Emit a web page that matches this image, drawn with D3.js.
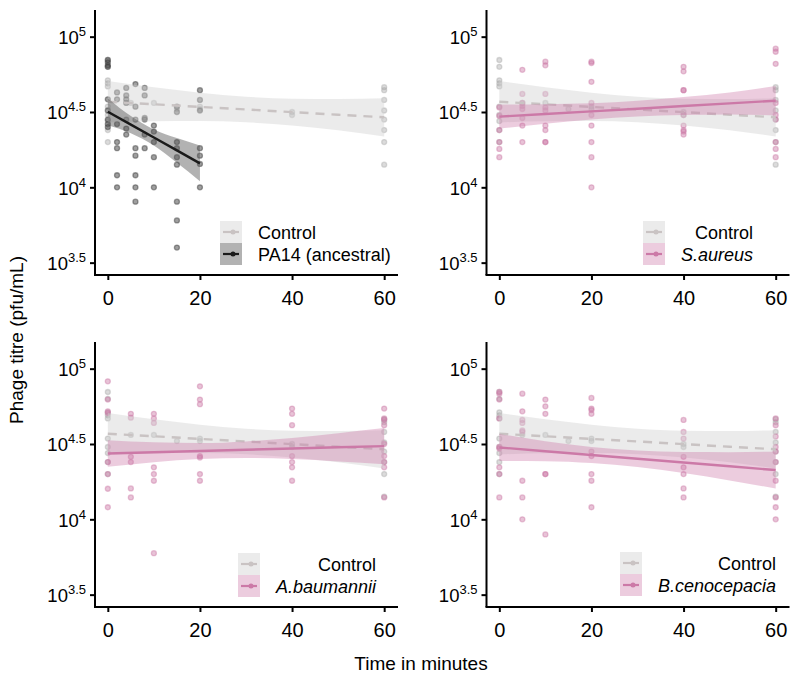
<!DOCTYPE html>
<html><head><meta charset="utf-8">
<script src="https://cdn.jsdelivr.net/npm/d3@7"></script>
<style>
body{margin:0;background:#fff}
svg{display:block}
text{font-family:"Liberation Sans",Arial,Helvetica,sans-serif;fill:#000}
</style>
</head><body>
<svg id="chart" width="800" height="687"></svg>
<script>
// ---------- DATA (log10 pfu/mL) ----------
const xTicks = [0, 20, 40, 60];
const yTickExps = ["3.5", "4", "4.5", "5"];

const controlTime = [0,0,0,0,0,0,0,0,0,0, 5, 10, 15, 20,20, 40,40, 60,60,60,60,60,60,60,60];
const controlLog  = [4.845,4.80,4.71,4.69,4.67,4.536,4.48,4.44,4.38,4.30, 4.56, 4.56, 4.52, 4.536,4.52, 4.50,4.48, 4.665,4.645,4.58,4.51,4.45,4.38,4.30,4.15];

const pa14Time = [0,0,0,0,0,0,0,0,0, 2,2,2,2,2,2,2, 4,4,4,4,4,4,4, 6,6,6,6,6,6,6,6, 8,8,8,8,8,8, 10,10,10,10,10, 15,15,15,15,15,15,15,15,15, 20,20,20,20,20,20,20];
const pa14Log  = [4.845,4.83,4.81,4.80,4.584,4.51,4.45,4.42,4.40,
                  4.63,4.584,4.42,4.30,4.26,4.08,4.00,
                  4.66,4.61,4.584,4.56,4.45,4.39,4.35,
                  4.685,4.535,4.45,4.26,4.21,4.08,4.00,3.905,
                  4.66,4.61,4.46,4.45,4.35,4.26,
                  4.41,4.37,4.30,4.20,4.00,
                  4.535,4.50,4.30,4.26,4.20,4.15,3.905,3.78,3.60,
                  4.645,4.58,4.51,4.26,4.21,4.155,4.00];

const saureusTime = [0,0,0,0,0,0, 5,5,5,5,5,5,5,5, 10,10,10,10,10,10,10,10,10, 20,20,20,20,20,20,20,20,20, 40,40,40,40,40,40,40,40,40, 60,60,60,60,60,60,60,60,60];
const saureusLog  = [4.53,4.474,4.38,4.30,4.255,4.20,
                     4.78,4.62,4.56,4.54,4.52,4.46,4.41,4.30,
                     4.834,4.81,4.62,4.53,4.51,4.41,4.38,4.30,4.30,
                     4.834,4.825,4.70,4.56,4.48,4.41,4.30,4.20,4.00,
                     4.80,4.77,4.645,4.645,4.48,4.41,4.38,4.37,4.35,
                     4.92,4.90,4.82,4.56,4.48,4.45,4.30,4.255,4.20];

const abaumTime = [0,0,0,0,0,0,0,0, 5,5,5,5,5,5, 10,10,10,10,10,10,10, 20,20,20,20,20,20,20, 40,40,40,40,40,40,40, 60,60,60,60,60,60,60,60,60];
const abaumLog  = [4.916,4.795,4.717,4.705,4.38,4.30,4.203,4.08,
                   4.70,4.675,4.415,4.38,4.205,4.145,
                   4.70,4.67,4.64,4.345,4.30,4.256,3.775,
                   4.883,4.795,4.764,4.42,4.41,4.30,4.256,
                   4.735,4.70,4.625,4.42,4.38,4.345,4.256,
                   4.735,4.67,4.66,4.625,4.50,4.42,4.38,4.345,4.145];

const bcenoTime = [0,0,0,0,0,0,0,0,0, 5,5,5,5,5,5,5,5,5, 10,10,10,10,10,10, 20,20,20,20,20,20,20,20,20, 40,40,40,40,40,40,40,40, 60,60,60,60,60,60,60,60,60,60];
const bcenoLog  = [4.845,4.834,4.795,4.67,4.48,4.47,4.345,4.30,4.145,
                   4.834,4.717,4.66,4.64,4.59,4.58,4.256,4.145,4.00,
                   4.795,4.75,4.70,4.30,4.30,3.90,
                   4.806,4.735,4.725,4.70,4.45,4.42,4.30,4.256,4.08,
                   4.66,4.58,4.536,4.415,4.345,4.30,4.205,4.145,
                   4.67,4.625,4.55,4.48,4.45,4.38,4.256,4.145,4.08,4.00];

// fitted lines with 95% bands
const controlFitT   = [0, 10, 20, 30, 40, 50, 60];
const controlFitMid = [4.568, 4.551, 4.534, 4.517, 4.499, 4.482, 4.465];
const controlFitLo  = [4.431, 4.438, 4.440, 4.432, 4.410, 4.378, 4.338];
const controlFitHi  = [4.705, 4.664, 4.628, 4.602, 4.588, 4.586, 4.592];

const pa14FitT   = [0, 5, 10, 15, 20];
const pa14FitMid = [4.502, 4.416, 4.331, 4.245, 4.159];
const pa14FitLo  = [4.412, 4.359, 4.278, 4.163, 4.041];
const pa14FitHi  = [4.592, 4.473, 4.384, 4.327, 4.277];

const saureusFitT   = [0, 10, 20, 30, 40, 50, 60];
const saureusFitMid = [4.469, 4.487, 4.504, 4.522, 4.540, 4.557, 4.575];
const saureusFitLo  = [4.389, 4.422, 4.450, 4.470, 4.480, 4.484, 4.477];
const saureusFitHi  = [4.549, 4.552, 4.558, 4.574, 4.600, 4.630, 4.673];

const abaumFitT   = [0, 10, 20, 30, 40, 50, 60];
const abaumFitMid = [4.437, 4.445, 4.453, 4.462, 4.470, 4.478, 4.486];
const abaumFitLo  = [4.349, 4.379, 4.400, 4.407, 4.400, 4.384, 4.366];
const abaumFitHi  = [4.525, 4.511, 4.506, 4.517, 4.540, 4.572, 4.606];

const bcenoFitT   = [0, 10, 20, 30, 40, 50, 60];
const bcenoFitMid = [4.477, 4.452, 4.427, 4.402, 4.377, 4.352, 4.327];
const bcenoFitLo  = [4.387, 4.386, 4.374, 4.347, 4.307, 4.258, 4.204];
const bcenoFitHi  = [4.567, 4.518, 4.480, 4.457, 4.447, 4.446, 4.450];

const panelLabels = ["PA14 (ancestral)", "S.aureus", "A.baumannii", "B.cenocepacia"];
const controlLabel = "Control";

// ---------- DRAWING ----------
const svg = d3.select("#chart");
const zip = (a, b) => a.map((v, i) => [v, b[i]]);

const panels = [
  {x0: 94,  x1: 398,   y0: 10,  y1: 275, label: panelLabels[0], italic: false,
   t: pa14Time, v: pa14Log, fit: [pa14FitT, pa14FitMid, pa14FitLo, pa14FitHi],
   col: "#3f3f3f", ptOp: 0.5, ribbon: "#555555", ribOp: 0.45, line: "#1a1a1a",
   legend: {kx: 220, ky: 221, align: "start", tx: 258}},
  {x0: 485.5, x1: 789.5, y0: 10, y1: 275, label: panelLabels[1], italic: true,
   t: saureusTime, v: saureusLog, fit: [saureusFitT, saureusFitMid, saureusFitLo, saureusFitHi],
   col: "#cc79a7", ptOp: 0.45, ribbon: "#cc79a7", ribOp: 0.38, line: "#cc79a7",
   legend: {kx: 643, ky: 221, align: "end", tx: 753}},
  {x0: 94,  x1: 398,   y0: 342, y1: 607, label: panelLabels[2], italic: true,
   t: abaumTime, v: abaumLog, fit: [abaumFitT, abaumFitMid, abaumFitLo, abaumFitHi],
   col: "#cc79a7", ptOp: 0.45, ribbon: "#cc79a7", ribOp: 0.38, line: "#cc79a7",
   legend: {kx: 238, ky: 553, align: "end", tx: 376}},
  {x0: 485.5, x1: 789.5, y0: 342, y1: 607, label: panelLabels[3], italic: true,
   t: bcenoTime, v: bcenoLog, fit: [bcenoFitT, bcenoFitMid, bcenoFitLo, bcenoFitHi],
   col: "#cc79a7", ptOp: 0.45, ribbon: "#cc79a7", ribOp: 0.38, line: "#cc79a7",
   legend: {kx: 620, ky: 552, align: "end", tx: 776}}
];

const ctrl = {col: "#a6a6a6", ptOp: 0.4, ribbon: "#d2d2d2", ribOp: 0.45, line: "#c9c3c3"};

panels.forEach(p => {
  const g = svg.append("g");
  const x = d3.scaleLinear().domain([-3, 63]).range([p.x0, p.x1]);
  const y = d3.scaleLog().domain([Math.pow(10, 3.418), Math.pow(10, 5.177)]).range([p.y1, p.y0]);
  const Y = v => y(Math.pow(10, v));

  // points
  const drawPts = (t, v, col, op) => {
    g.append("g").selectAll("circle").data(zip(t, v)).join("circle")
      .attr("cx", d => x(d[0])).attr("cy", d => Y(d[1])).attr("r", 2.5)
      .attr("fill", col).attr("fill-opacity", op)
      .attr("stroke", col).attr("stroke-opacity", op).attr("stroke-width", 1.3);
  };
  drawPts(controlTime, controlLog, ctrl.col, ctrl.ptOp);
  drawPts(p.t, p.v, p.col, p.ptOp);

  const area = d3.area().x(d => x(d[0])).y0(d => Y(d[1])).y1(d => Y(d[2])).curve(d3.curveMonotoneX);
  const line = d3.line().x(d => x(d[0])).y(d => Y(d[1]));

  const drawFit = (T, M, L, H, rib, ribOp, lc, dash) => {
    g.append("path").datum(T.map((t, i) => [t, L[i], H[i]]))
      .attr("d", area).attr("fill", rib).attr("fill-opacity", ribOp);
    g.append("path").datum(T.map((t, i) => [t, M[i]]))
      .attr("d", line).attr("fill", "none").attr("stroke", lc).attr("stroke-width", 2.4)
      .attr("stroke-dasharray", dash || null);
  };
  drawFit(controlFitT, controlFitMid, controlFitLo, controlFitHi, ctrl.ribbon, ctrl.ribOp, ctrl.line, "9,7");
  drawFit(p.fit[0], p.fit[1], p.fit[2], p.fit[3], p.ribbon, p.ribOp, p.line, null);

  // axes
  const xAxis = d3.axisBottom(x).tickValues(xTicks).tickSize(5).tickPadding(6).tickFormat(d3.format("d"));
  const gx = g.append("g").attr("transform", `translate(0,${p.y1})`).call(xAxis);
  gx.select(".domain").attr("d", `M${p.x0},0H${p.x1}`).attr("stroke", "#000").attr("stroke-width", 2);
  gx.selectAll(".tick line").attr("stroke", "#000").attr("stroke-width", 2);
  gx.selectAll(".tick text").attr("font-size", 20).attr("font-family", null).attr("fill", "#000").attr("dy", "0.95em");

  const yAxis = d3.axisLeft(y).tickValues(yTickExps.map(e => Math.pow(10, +e))).tickSize(5).tickFormat(() => "");
  const gy = g.append("g").attr("transform", `translate(${p.x0 + 1},0)`).call(yAxis);
  gy.select(".domain").attr("d", `M0,${p.y0}V${p.y1}`).attr("stroke", "#000").attr("stroke-width", 2);
  gy.selectAll(".tick line").attr("stroke", "#000").attr("stroke-width", 2);
  gy.selectAll(".tick").each(function(d, i) {
    const t = d3.select(this).append("text").attr("x", -9).attr("y", 7)
      .attr("text-anchor", "end").attr("fill", "#000").attr("font-size", 18.5).attr("font-family", null);
    t.append("tspan").text("10");
    t.append("tspan").text(yTickExps[i]).attr("font-size", 13).attr("dy", -8);
  });

  // legend
  const L = p.legend;
  const keyW = 22, keyH = 22;
  const keys = [
    {bg: ctrl.ribbon, bgOp: ctrl.ribOp, lc: ctrl.line, text: controlLabel, italic: false},
    {bg: p.ribbon, bgOp: p.ribOp, lc: p.line, text: p.label, italic: p.italic}
  ];
  keys.forEach((k, i) => {
    const ky = L.ky + i * keyH;
    g.append("rect").attr("x", L.kx).attr("y", ky).attr("width", keyW).attr("height", keyH)
      .attr("fill", k.bg).attr("fill-opacity", k.bgOp);
    g.append("line").attr("x1", L.kx + 3).attr("x2", L.kx + keyW - 3)
      .attr("y1", ky + keyH / 2).attr("y2", ky + keyH / 2)
      .attr("stroke", k.lc).attr("stroke-width", 2.2);
    g.append("circle").attr("cx", L.kx + keyW / 2 + 2).attr("cy", ky + keyH / 2).attr("r", 2.5)
      .attr("fill", k.lc);
    g.append("text").attr("x", L.tx).attr("y", ky + keyH / 2 + 6.5)
      .attr("text-anchor", L.align).attr("font-size", 18)
      .attr("font-style", k.italic ? "italic" : null).text(k.text);
  });
});

// axis titles
svg.append("text").attr("x", 421).attr("y", 670).attr("text-anchor", "middle")
  .attr("font-size", 19).text("Time in minutes");
svg.append("text").attr("transform", "translate(23,340) rotate(-90)").attr("text-anchor", "middle")
  .attr("font-size", 19).text("Phage titre (pfu/mL)");
</script>
</body></html>
